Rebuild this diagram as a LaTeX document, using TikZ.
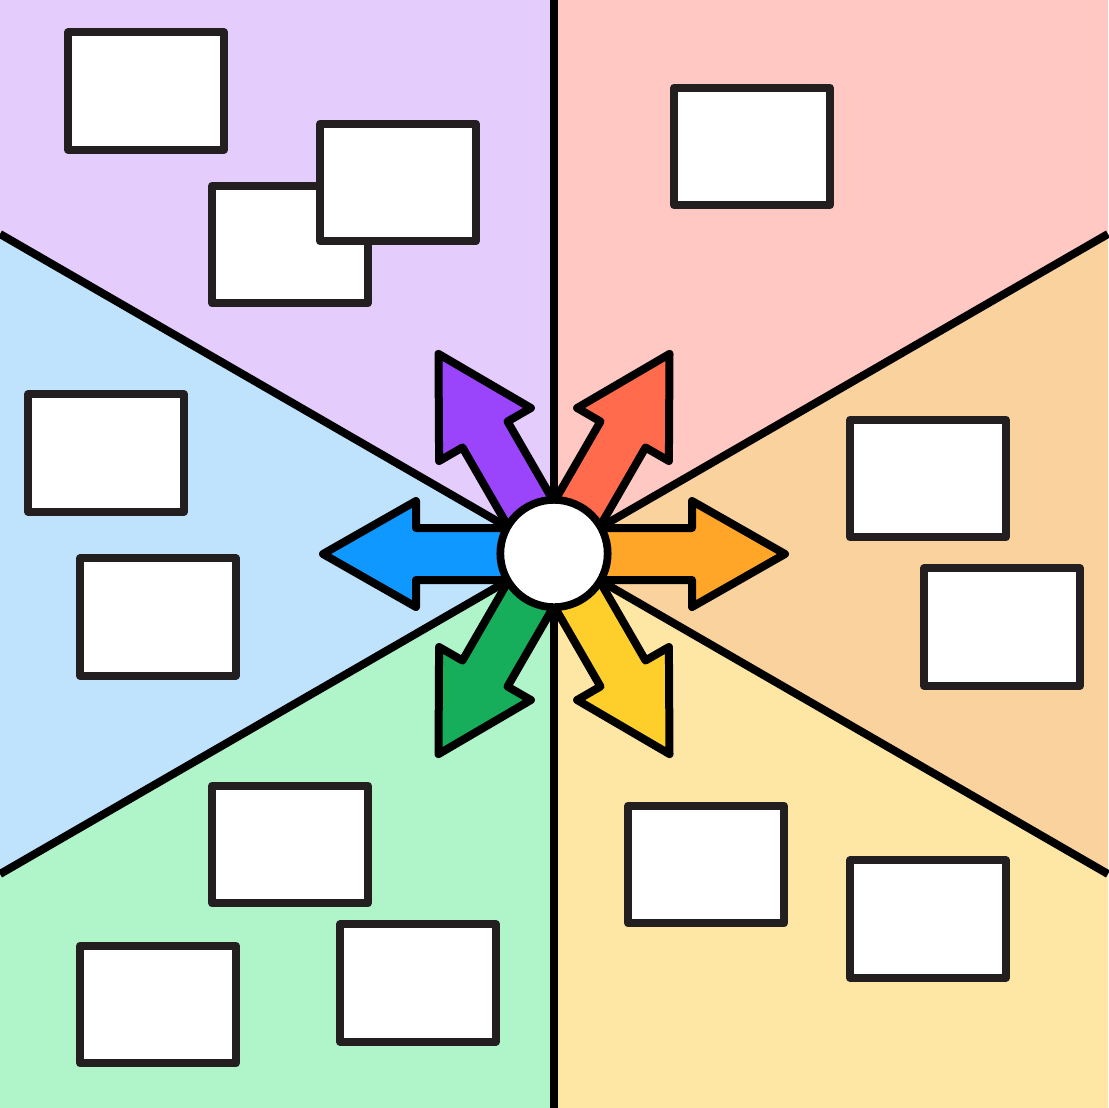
\documentclass[tikz,border=0pt]{standalone}
\begin{document}
\begin{tikzpicture}[x=0.75pt,y=-0.75pt]
\definecolor{bgPurple}{HTML}{E4CCFD}
\definecolor{bgPink}{HTML}{FFC8C3}
\definecolor{bgOrange}{HTML}{FAD29D}
\definecolor{bgYellow}{HTML}{FEE7A4}
\definecolor{bgGreen}{HTML}{B0F4CA}
\definecolor{bgBlue}{HTML}{C0E3FD}
\definecolor{arPurple}{HTML}{9A45FB}
\definecolor{arRed}{HTML}{FF6B4C}
\definecolor{arOrange}{HTML}{FFA629}
\definecolor{arYellow}{HTML}{FECE2A}
\definecolor{arGreen}{HTML}{16AD5B}
\definecolor{arBlue}{HTML}{0F98FF}
\definecolor{boxline}{HTML}{231F20}
\tikzset{
  boxnode/.style={draw=boxline, fill=white, line width=6pt, line join=round,
    rectangle, inner sep=0pt, outer sep=0pt, minimum width=117pt, minimum height=88pt},
  divline/.style={draw=black, line width=6pt},
  arrowshape/.style={draw=black, line width=6pt, line join=round},
  hub/.style={draw=black, fill=white, line width=5.8pt, circle, inner sep=0pt, minimum size=80.5pt}
}
\useasboundingbox (0,0) rectangle (1108,1108);
\coordinate (c) at (554,554);
\coordinate (eN) at (554,0);
\coordinate (eNE) at (1108,234);
\coordinate (eSE) at (1108,874);
\coordinate (eS) at (554,1108);
\coordinate (eSW) at (0,874);
\coordinate (eNW) at (0,234);
% sectors
\fill[bgPurple] (c) -- (eNW) -- (0,0) -- (eN) -- cycle;
\fill[bgPink] (c) -- (eN) -- (1108,0) -- (eNE) -- cycle;
\fill[bgOrange] (c) -- (eNE) -- (eSE) -- cycle;
\fill[bgYellow] (c) -- (eSE) -- (1108,1108) -- (eS) -- cycle;
\fill[bgGreen] (c) -- (eS) -- (0,1108) -- (eSW) -- cycle;
\fill[bgBlue] (c) -- (eSW) -- (eNW) -- cycle;
% dividing lines
\foreach \e in {eN,eNE,eSE,eS,eSW,eNW} \draw[divline] (c) -- (\e);
% boxes
\node[boxnode] (b1) at (146,91) {};
\node[boxnode] (b2) at (290,244.5) {};
\node[boxnode] (b3) at (398,182.5) {};
\node[boxnode] (b4) at (752,146.5) {};
\node[boxnode] (b5) at (928,478.5) {};
\node[boxnode] (b6) at (1002,627) {};
\node[boxnode] (b7) at (706,864.5) {};
\node[boxnode] (b8) at (928,919) {};
\node[boxnode] (b9) at (290,844.5) {};
\node[boxnode] (b10) at (158,1004.5) {};
\node[boxnode] (b11) at (418,983) {};
\node[boxnode] (b12) at (106,453) {};
\node[boxnode] (b13) at (158,617) {};
% arrows
\foreach \ang/\col in {0/arOrange,60/arRed,120/arPurple,180/arBlue,240/arGreen,300/arYellow}{
  \begin{scope}[shift={(c)}, rotate=\ang]
    \draw[arrowshape, fill=\col] (0,26) -- (138,26) -- (138,53) -- (231,0) -- (138,-53) -- (138,-26) -- (0,-26) -- cycle;
  \end{scope}
}
% hub
\node[hub] (hub) at (554,553.5) {};
\end{tikzpicture}
\end{document}
